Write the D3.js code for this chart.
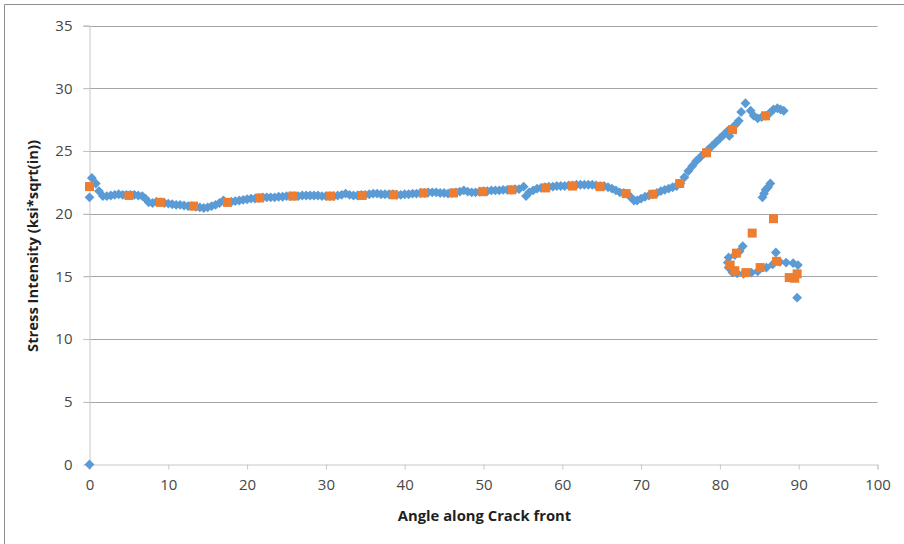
<!DOCTYPE html>
<html>
<head>
<meta charset="utf-8">
<script src="https://cdn.jsdelivr.net/npm/d3@7"></script>
<style>
  body { margin: 0; background: #fff; }
  text { font-family: 'Open Sans', sans-serif; }
</style>
</head>
<body>
<svg id="chart" width="904" height="544"></svg>
<script>
// stress intensity, fine mesh (blue diamonds)
const fineSeries = [
  [0, 0], [0, 21.3], [0.3, 22.85], [0.8, 22.4], [1.2, 21.8], [1.7, 21.4], [2.2, 21.4],
  [2.7, 21.45], [3.2, 21.5], [3.7, 21.55], [4.2, 21.5], [4.7, 21.5], [5.2, 21.5],
  [5.7, 21.5], [6.2, 21.45], [6.7, 21.4], [7.1, 21.2], [7.5, 20.9], [8, 20.85],
  [8.5, 20.95], [9, 20.9], [9.5, 20.85], [10, 20.8], [10.5, 20.75], [11, 20.7],
  [11.5, 20.7], [12, 20.65], [12.5, 20.6], [13, 20.6], [13.5, 20.55], [14, 20.5],
  [14.5, 20.45], [15, 20.5], [15.5, 20.6], [16, 20.7], [16.5, 20.85], [17, 21.05],
  [17.5, 20.9], [18, 20.95], [18.5, 21], [19, 21.05], [19.5, 21.1], [20, 21.15],
  [20.5, 21.2], [21, 21.2], [21.5, 21.25], [22, 21.3], [22.5, 21.3], [23, 21.3],
  [23.5, 21.3], [24, 21.35], [24.5, 21.35], [25, 21.4], [25.5, 21.4], [26, 21.4],
  [26.5, 21.4], [27, 21.45], [27.5, 21.45], [28, 21.45], [28.5, 21.45], [29, 21.45],
  [29.5, 21.4], [30, 21.4], [30.5, 21.4], [31, 21.4], [31.5, 21.45], [32, 21.5],
  [32.5, 21.6], [33, 21.5], [33.5, 21.45], [34, 21.45], [34.5, 21.5], [35, 21.5],
  [35.5, 21.55], [36, 21.6], [36.5, 21.6], [37, 21.55], [37.5, 21.55], [38, 21.55],
  [38.5, 21.55], [39, 21.5], [39.5, 21.5], [40, 21.55], [40.5, 21.55], [41, 21.6],
  [41.5, 21.6], [42, 21.65], [42.5, 21.65], [43, 21.7], [43.5, 21.7], [44, 21.7],
  [44.5, 21.65], [45, 21.65], [45.5, 21.6], [46, 21.65], [46.5, 21.7], [47, 21.75],
  [47.5, 21.85], [48, 21.75], [48.5, 21.7], [49, 21.7], [49.5, 21.75], [50, 21.8],
  [50.5, 21.8], [51, 21.85], [51.5, 21.85], [52, 21.85], [52.5, 21.9], [53, 21.9],
  [53.5, 21.9], [54, 21.95], [54.5, 21.95], [55.1, 22.15], [55.4, 21.4], [55.8, 21.7],
  [56.3, 21.85], [56.8, 22], [57.3, 22.05], [57.8, 22.1], [58.3, 22.15], [58.8, 22.15],
  [59.3, 22.2], [59.8, 22.2], [60.3, 22.2], [60.8, 22.25], [61.3, 22.25], [61.8, 22.3],
  [62.3, 22.3], [62.8, 22.3], [63.3, 22.3], [63.8, 22.3], [64.3, 22.25], [64.8, 22.2],
  [65.3, 22.2], [65.8, 22.1], [66.3, 22], [66.8, 21.85], [67.3, 21.7], [67.8, 21.65],
  [68.3, 21.55], [68.7, 21.3], [69.1, 21.05], [69.5, 21.05], [70, 21.2], [70.5, 21.35],
  [71, 21.45], [71.5, 21.55], [72, 21.65], [72.5, 21.8], [73, 21.9], [73.5, 22],
  [74, 22.1], [74.5, 22.2], [75, 22.4], [75.5, 22.9], [76, 23.4], [76.5, 23.8],
  [77, 24.2], [77.5, 24.5], [78, 24.8], [78.5, 25.1], [79, 25.4], [79.5, 25.7],
  [80, 26], [80.5, 26.3], [81, 26.6], [81.2, 26.2], [81.5, 26.8], [82, 27.1],
  [82.4, 27.4], [82.7, 28.1], [83.25, 28.8], [83.9, 28.2], [84.3, 27.8], [84.8, 27.6],
  [85.3, 27.7], [85.8, 27.8], [86.3, 28], [86.8, 28.3], [87.3, 28.4], [87.7, 28.3],
  [88.1, 28.2],
  [85.4, 21.3], [85.6, 21.6], [85.8, 21.9], [86.1, 22.1], [86.4, 22.4],
  [82.9, 17.4], [82.5, 17], [81.9, 16.7], [81.1, 16.5], [81, 16.1], [81.1, 15.7],
  [81.6, 15.3], [82.2, 15.25], [83, 15.2], [84, 15.3], [84.8, 15.4], [85.9, 15.7],
  [86.7, 15.95], [87.6, 16.15], [88.4, 16.1], [89.3, 16.05], [89.9, 15.9],
  [87.1, 16.9], [89.8, 13.3]
];

// stress intensity, coarse mesh (orange squares)
const coarseSeries = [
  [0, 22.16], [5, 21.45], [9, 20.9], [13.2, 20.6], [17.5, 20.9], [21.6, 21.25],
  [25.8, 21.4], [30.6, 21.4], [34.6, 21.45], [38.6, 21.5], [42.4, 21.65],
  [46.2, 21.65], [49.9, 21.75], [53.6, 21.9], [57.9, 22.05], [61.3, 22.2],
  [64.8, 22.15], [68.1, 21.6], [71.5, 21.55], [74.9, 22.4], [78.3, 24.85],
  [81.6, 26.7], [85.8, 27.8],
  [81.3, 15.9], [81.9, 15.45], [82.1, 16.85], [83.3, 15.3], [84.1, 18.45],
  [85.1, 15.7], [86.8, 19.6], [87.2, 16.2], [88.8, 14.9], [89.5, 14.85], [89.8, 15.2]
];

const xTicks = [0, 10, 20, 30, 40, 50, 60, 70, 80, 90, 100];
const yTicks = [0, 5, 10, 15, 20, 25, 30, 35];

const svg = d3.select('#chart');
const x = d3.scaleLinear([0, 100], [89.5, 877.5]);
const y = d3.scaleLinear([0, 35], [464.5, 25.5]);

// chart frame (only left and top edges visible)
svg.append('path')
  .attr('d', 'M4.5,544 V4.5 H904')
  .attr('fill', 'none')
  .attr('stroke', '#8c8c8c');

// gridlines
svg.append('g')
  .selectAll('line')
  .data(yTicks.filter((d) => d > 0))
  .join('line')
  .attr('x1', x(0) - 6)
  .attr('x2', x(100))
  .attr('y1', (d) => Math.round(y(d)) + 0.5)
  .attr('y2', (d) => Math.round(y(d)) + 0.5)
  .attr('stroke', '#a6a6a6');

// axes
const yAxis = svg.append('g')
  .attr('transform', `translate(${x(0)},0)`)
  .call(d3.axisLeft(y).tickValues(yTicks).tickSize(6).tickPadding(11));
const xAxis = svg.append('g')
  .attr('transform', `translate(0,${y(0)})`)
  .call(d3.axisBottom(x).tickValues(xTicks).tickSize(5).tickPadding(10));

[yAxis, xAxis].forEach((g) => {
  g.select('.domain').attr('stroke', '#c8c8c8');
  g.selectAll('.tick line').attr('stroke', '#c8c8c8');
  g.selectAll('.tick text')
    .attr('fill', '#474747')
    .style('font-size', '15px')
    .style('font-family', "'Open Sans', sans-serif");
});

// axis titles
svg.append('text')
  .attr('x', 484.5)
  .attr('y', 515)
  .attr('text-anchor', 'middle')
  .attr('dominant-baseline', 'central')
  .attr('fill', '#1f1f1f')
  .style('font-size', '14.8px')
  .style('font-weight', 'bold')
  .text('Angle along Crack front');

svg.append('text')
  .attr('transform', 'translate(32,246) rotate(-90)')
  .attr('text-anchor', 'middle')
  .attr('dominant-baseline', 'central')
  .attr('fill', '#1f1f1f')
  .style('font-size', '14.8px')
  .style('font-weight', 'bold')
  .text('Stress Intensity (ksi*sqrt(in))');

// markers
const diamond = d3.symbol().type(d3.symbolDiamond2).size(62);
svg.append('g')
  .selectAll('path')
  .data(fineSeries)
  .join('path')
  .attr('transform', (d) => `translate(${x(d[0])},${y(d[1])})`)
  .attr('d', diamond)
  .attr('fill', '#5b9bd5');

svg.append('g')
  .selectAll('rect')
  .data(coarseSeries)
  .join('rect')
  .attr('x', (d) => x(d[0]) - 4.5)
  .attr('y', (d) => y(d[1]) - 4.5)
  .attr('width', 9)
  .attr('height', 9)
  .attr('fill', '#ed7d31');
</script>
</body>
</html>
